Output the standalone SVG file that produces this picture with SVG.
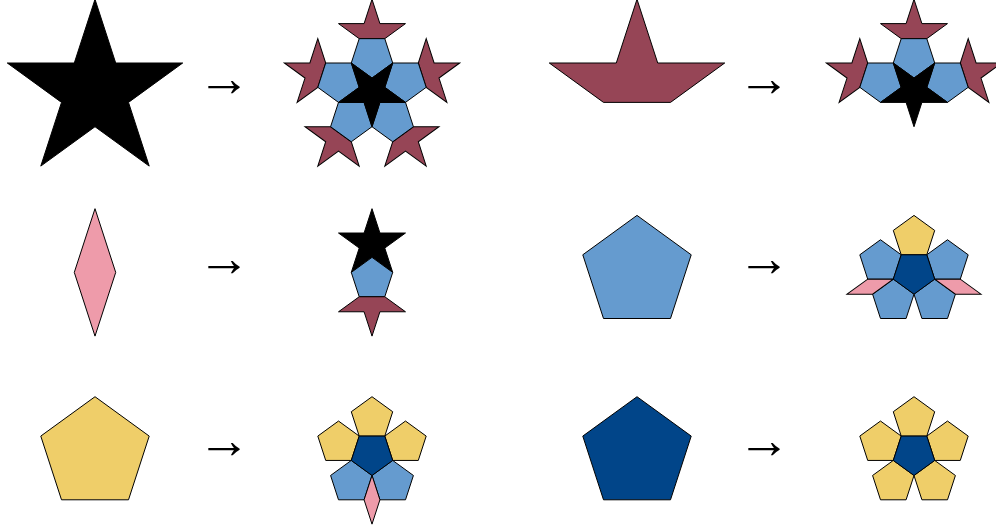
<svg xmlns="http://www.w3.org/2000/svg" width="996" height="529" viewBox="0 0 996 529">
<style>
.t{stroke:#000;stroke-width:1;stroke-linejoin:miter}
.k{fill:#000}
.m{fill:#964556}
.b{fill:#659BCF}
.y{fill:#EFCE69}
.d{fill:#014589}
.p{fill:#EE9BAA}
.arr{font-family:"Liberation Serif","DejaVu Serif",serif;font-size:53px;text-anchor:middle;fill:#000}
</style>
<defs>
<path id="SB" d="M0,-92.217 L20.704,-28.497 L87.704,-28.497 L33.5,10.885 L54.204,74.605 L0,35.224 L-54.204,74.605 L-33.5,10.885 L-87.704,-28.497 L-20.704,-28.497 Z"/>
<path id="BB" d="M0,-92.217 L20.704,-28.497 L87.704,-28.497 L33.5,10.885 L-33.5,10.885 L-87.704,-28.497 L-20.704,-28.497 Z"/>
<path id="PB" d="M0,-56.994 L54.204,-17.612 L33.5,46.109 L-33.5,46.109 L-54.204,-17.612 Z"/>
<path id="DB" d="M0,-63.721 L20.704,0 L0,63.721 L-20.704,0 Z"/>
<path id="ss" d="M0,-35.223 L7.908,-10.885 L33.499,-10.885 L12.796,4.158 L20.704,28.496 L0,13.454 L-20.704,28.496 L-12.796,4.158 L-33.499,-10.885 L-7.908,-10.885 Z"/>
<path id="bs" d="M0,-35.223 L7.908,-10.885 L33.499,-10.885 L12.796,4.158 L-12.796,4.158 L-33.499,-10.885 L-7.908,-10.885 Z"/>
<path id="ps" d="M0,-21.769 L20.704,-6.727 L12.796,17.611 L-12.796,17.611 L-20.704,-6.727 Z"/>
<path id="ds" d="M0,-24.338 L7.908,0 L0,24.338 L-7.908,0 Z"/>
</defs>

<g id="star">
<use class="t k" href="#SB" transform="translate(95,91.5)"/>
</g>
<g id="star-deflated">
<use class="t m" href="#bs" transform="translate(372,34.506)"/>
<use class="t m" href="#bs" transform="translate(426.204,73.888) rotate(72)"/>
<use class="t m" href="#bs" transform="translate(405.5,137.609) rotate(144)"/>
<use class="t m" href="#bs" transform="translate(338.5,137.609) rotate(216)"/>
<use class="t m" href="#bs" transform="translate(317.796,73.888) rotate(288)"/>
<use class="t b" href="#ps" transform="translate(372,56.277) rotate(180)"/>
<use class="t b" href="#ps" transform="translate(405.499,80.615) rotate(180)"/>
<use class="t b" href="#ps" transform="translate(392.704,119.996) rotate(180)"/>
<use class="t b" href="#ps" transform="translate(351.296,119.996) rotate(180)"/>
<use class="t b" href="#ps" transform="translate(338.501,80.615) rotate(180)"/>
<use class="t k" href="#ss" transform="translate(372,91.5) rotate(180)"/>
</g>

<g id="boat">
<use class="t m" href="#BB" transform="translate(637,91.5)"/>
</g>
<g id="boat-deflated">
<use class="t m" href="#bs" transform="translate(914,34.506)"/>
<use class="t m" href="#bs" transform="translate(968.204,73.888) rotate(72)"/>
<use class="t m" href="#bs" transform="translate(859.796,73.888) rotate(288)"/>
<use class="t b" href="#ps" transform="translate(914,56.277) rotate(180)"/>
<use class="t b" href="#ps" transform="translate(947.499,80.615) rotate(180)"/>
<use class="t b" href="#ps" transform="translate(880.501,80.615) rotate(180)"/>
<use class="t k" href="#ss" transform="translate(914,91.5) rotate(180)"/>
</g>

<g id="diamond">
<use class="t p" href="#DB" transform="translate(95,272.4)"/>
</g>
<g id="diamond-deflated">
<use class="t k" href="#ss" transform="translate(372,243.902)"/>
<use class="t b" href="#ps" transform="translate(372,279.125)"/>
<use class="t m" href="#bs" transform="translate(372,300.896) rotate(180)"/>
</g>

<g id="pentagon-blue">
<use class="t b" href="#PB" transform="translate(637,272.4)"/>
</g>
<g id="pentagon-blue-deflated">
<use class="t y" href="#ps" transform="translate(914,237.177)"/>
<use class="t b" href="#ps" transform="translate(947.499,261.515)"/>
<use class="t b" href="#ps" transform="translate(934.704,300.896)"/>
<use class="t b" href="#ps" transform="translate(893.296,300.896)"/>
<use class="t b" href="#ps" transform="translate(880.501,261.515)"/>
<use class="t p" href="#ds" transform="translate(957.85,286.648) rotate(108)"/>
<use class="t p" href="#ds" transform="translate(870.15,286.648) rotate(-108)"/>
<use class="t d" href="#ps" transform="translate(914,272.4) rotate(180)"/>
</g>

<g id="pentagon-yellow">
<use class="t y" href="#PB" transform="translate(95,453.7)"/>
</g>
<g id="pentagon-yellow-deflated">
<use class="t y" href="#ps" transform="translate(372,418.477)"/>
<use class="t y" href="#ps" transform="translate(405.499,442.815)"/>
<use class="t y" href="#ps" transform="translate(338.501,442.815)"/>
<use class="t b" href="#ps" transform="translate(392.704,482.196)"/>
<use class="t b" href="#ps" transform="translate(351.296,482.196)"/>
<use class="t p" href="#ds" transform="translate(372,499.807)"/>
<use class="t d" href="#ps" transform="translate(372,453.7) rotate(180)"/>
</g>

<g id="pentagon-dark">
<use class="t d" href="#PB" transform="translate(637,453.7)"/>
</g>
<g id="pentagon-dark-deflated">
<use class="t y" href="#ps" transform="translate(914,418.477)"/>
<use class="t y" href="#ps" transform="translate(947.499,442.815)"/>
<use class="t y" href="#ps" transform="translate(934.704,482.196)"/>
<use class="t y" href="#ps" transform="translate(893.296,482.196)"/>
<use class="t y" href="#ps" transform="translate(880.501,442.815)"/>
<use class="t d" href="#ps" transform="translate(914,453.7) rotate(180)"/>
</g>

<g id="arrows">
<text class="arr" x="224" y="96">→</text>
<text class="arr" x="764" y="96">→</text>
<text class="arr" x="224" y="276">→</text>
<text class="arr" x="764" y="276">→</text>
<text class="arr" x="224" y="457.5">→</text>
<text class="arr" x="764" y="457.5">→</text>
</g>
</svg>
